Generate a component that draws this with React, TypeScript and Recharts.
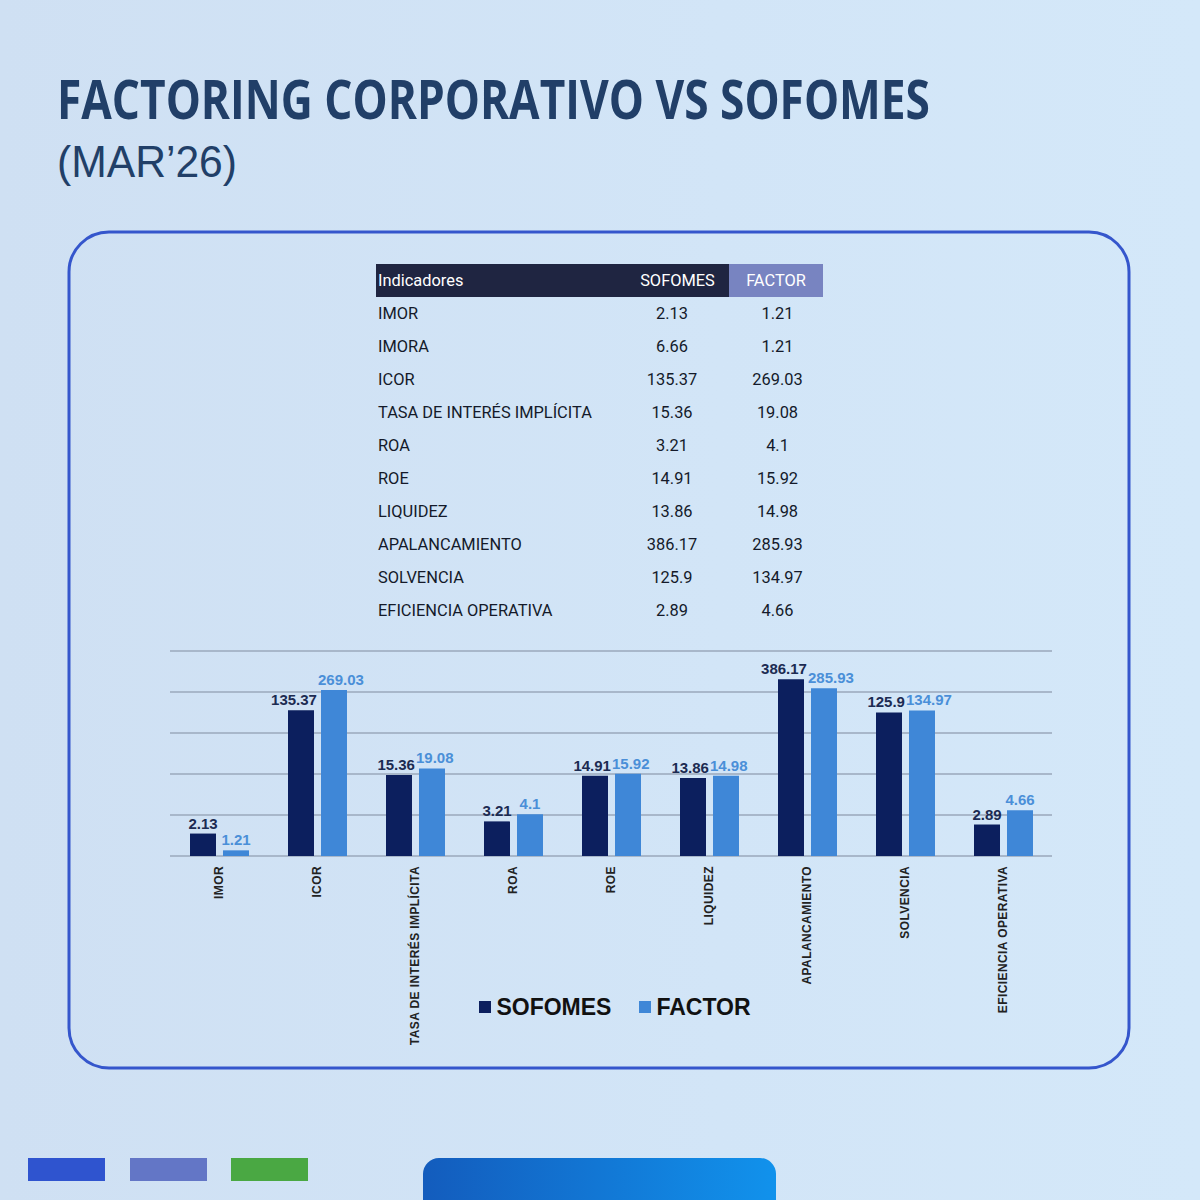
import { BarChart, Bar, XAxis, YAxis, CartesianGrid, LabelList, Legend } from 'recharts';

// Indicator table (SOFOMES vs FACTOR, Mar'26)
const indicators = [
  'IMOR',
  'IMORA',
  'ICOR',
  'TASA DE INTERÉS IMPLÍCITA',
  'ROA',
  'ROE',
  'LIQUIDEZ',
  'APALANCAMIENTO',
  'SOLVENCIA',
  'EFICIENCIA OPERATIVA',
];
const sofomesValues = [2.13, 6.66, 135.37, 15.36, 3.21, 14.91, 13.86, 386.17, 125.9, 2.89];
const factorValues = [1.21, 1.21, 269.03, 19.08, 4.1, 15.92, 14.98, 285.93, 134.97, 4.66];
const seriesOrder = ['SOFOMES', 'FACTOR'];

// IMORA is listed in the table but left out of the bar chart
const tableOnly = ['IMORA'];

const SOFOMES_COLOR = '#0c1f5e';
const FACTOR_COLOR = '#3f87d7';
const LABEL_FONT = "'Liberation Sans', Arial, sans-serif";

// log axis, gridlines spread evenly over 1..1000
const logDomain = [1, 1000];
const gridTicks = [0, 1, 2, 3, 4, 5].map((i) => 10 ** (i * 0.6));

const chartData = indicators
  .map((name, i) => ({ name, sofomes: sofomesValues[i], factor: factorValues[i] }))
  .filter((d) => !tableOnly.includes(d.name));

// rough width of a bold 15px number string
const labelWidth = (s: string) => [...s].reduce((w, c) => w + (c === '.' ? 4.2 : 8.35), 0);

// value labels: centred on the bar, but nudged outwards so the pair never collide
function makeValueLabel(side: 'left' | 'right', color: string) {
  return (props: any) => {
    const { x, y, width, value } = props;
    const text = String(value);
    const w = labelWidth(text);
    const center = x + width / 2;
    const cx =
      side === 'left'
        ? Math.min(center, x + width + 3 - w / 2)
        : Math.max(center, x - 3 + w / 2);
    return (
      <text x={cx} y={y - 5} textAnchor="middle" fill={color} fontSize={15} fontWeight={700} fontFamily={LABEL_FONT}>
        {text}
      </text>
    );
  };
}

function RotatedTick({ x, y, payload }: any) {
  const tx = x + 4;
  const ty = y + 2;
  return (
    <text
      x={tx}
      y={ty}
      transform={`rotate(-90 ${tx} ${ty})`}
      textAnchor="end"
      fill="#222"
      fontFamily={LABEL_FONT}
      fontWeight={700}
      fontSize={12}
      letterSpacing={0.4}
    >
      {payload.value}
    </text>
  );
}

function LegendRow({ payload }: any) {
  const items = [...(payload || [])].sort(
    (a: any, b: any) => seriesOrder.indexOf(a.value) - seriesOrder.indexOf(b.value),
  );
  return (
    <div
      style={{
        display: 'flex',
        justifyContent: 'center',
        alignItems: 'center',
        gap: 28,
        height: 30,
        paddingLeft: 8,
        fontFamily: LABEL_FONT,
        fontWeight: 700,
        fontSize: 23,
        color: '#111',
      }}
    >
      {items.map((entry: any) => (
        <span key={entry.value} style={{ display: 'flex', alignItems: 'center' }}>
          <span
            style={{ display: 'inline-block', width: 12, height: 12, background: entry.color, marginRight: 5 }}
          />
          {entry.value}
        </span>
      ))}
    </div>
  );
}

function IndicatorTable() {
  const rowH = 33;
  const cell = { height: rowH, display: 'flex', alignItems: 'center', boxSizing: 'border-box' } as const;
  return (
    <div
      style={{
        position: 'absolute',
        left: 376,
        top: 264,
        width: 447,
        fontFamily: 'Roboto, sans-serif',
        fontSize: 16.4,
        color: '#141a2a',
      }}
    >
      <div style={{ display: 'flex', color: '#fff' }}>
        <div style={{ ...cell, width: 248, background: '#1f2541', paddingLeft: 2 }}>Indicadores</div>
        <div style={{ ...cell, width: 105, background: '#1f2541', justifyContent: 'center', paddingLeft: 2 }}>
          SOFOMES
        </div>
        <div style={{ ...cell, width: 94, background: '#7884c1', justifyContent: 'center' }}>FACTOR</div>
      </div>
      {indicators.map((name, i) => (
        <div key={name} style={{ display: 'flex' }}>
          <div style={{ ...cell, width: 248, paddingLeft: 2 }}>{name}</div>
          <div style={{ ...cell, width: 96, justifyContent: 'center' }}>{sofomesValues[i]}</div>
          <div style={{ ...cell, width: 103, justifyContent: 'center', paddingLeft: 12 }}>{factorValues[i]}</div>
        </div>
      ))}
    </div>
  );
}

export default function App() {
  return (
    <div
      style={{
        position: 'absolute',
        left: 0,
        top: 0,
        width: 1200,
        height: 1200,
        overflow: 'hidden',
        background: 'linear-gradient(90deg, #cfe0f3 0%, #d2e5f7 60%, #d4e8f9 100%)',
      }}
    >
      <svg width={1200} height={1200} style={{ position: 'absolute', left: 0, top: 0 }}>
        <defs>
          <linearGradient id="tab" x1="0" x2="1" y1="0" y2="0">
            <stop offset="0%" stopColor="#135cbd" />
            <stop offset="100%" stopColor="#1192ec" />
          </linearGradient>
        </defs>
        <text
          x={57}
          y={119}
          fill="#213f68"
          fontFamily="'Open Sans', sans-serif"
          fontWeight={700}
          fontSize={53}
          textLength={873}
          lengthAdjust="spacingAndGlyphs"
        >
          FACTORING CORPORATIVO VS SOFOMES
        </text>
        <text
          x={57}
          y={177}
          fill="#213f68"
          fontFamily="'Liberation Sans', Arial, sans-serif"
          fontWeight={400}
          fontSize={44}
          textLength={180}
          lengthAdjust="spacingAndGlyphs"
        >
          (MAR’26)
        </text>
        <rect x={69} y={232} width={1060} height={836} rx={40} fill="none" stroke="#3556cc" strokeWidth={3} />
        <rect x={28} y={1158} width={77} height={23} fill="#2f54cf" />
        <rect x={130} y={1158} width={77} height={23} fill="#6376c6" />
        <rect x={231} y={1158} width={77} height={23} fill="#4aa843" />
        <rect x={423} y={1158} width={353} height={70} rx={16} fill="url(#tab)" />
      </svg>

      <IndicatorTable />

      <div style={{ position: 'absolute', left: 150, top: 630 }}>
        <BarChart
          width={930}
          height={440}
          data={chartData}
          margin={{ top: 21, right: 28, left: 20, bottom: 48 }}
          barSize={26}
          barGap={7}
        >
          <CartesianGrid vertical={false} stroke="#a8b7ca" strokeWidth={2} />
          <XAxis
            dataKey="name"
            interval={0}
            height={136}
            axisLine={false}
            tickLine={false}
            tick={<RotatedTick />}
          />
          <YAxis hide type="number" scale="log" domain={logDomain} ticks={gridTicks} allowDataOverflow />
          <Legend verticalAlign="bottom" align="center" content={<LegendRow />} />
          <Bar dataKey="sofomes" name="SOFOMES" fill={SOFOMES_COLOR} isAnimationActive={false}>
            <LabelList dataKey="sofomes" content={makeValueLabel('left', '#1c2b52')} />
          </Bar>
          <Bar dataKey="factor" name="FACTOR" fill={FACTOR_COLOR} isAnimationActive={false}>
            <LabelList dataKey="factor" content={makeValueLabel('right', '#4a8fd8')} />
          </Bar>
        </BarChart>
      </div>
    </div>
  );
}
